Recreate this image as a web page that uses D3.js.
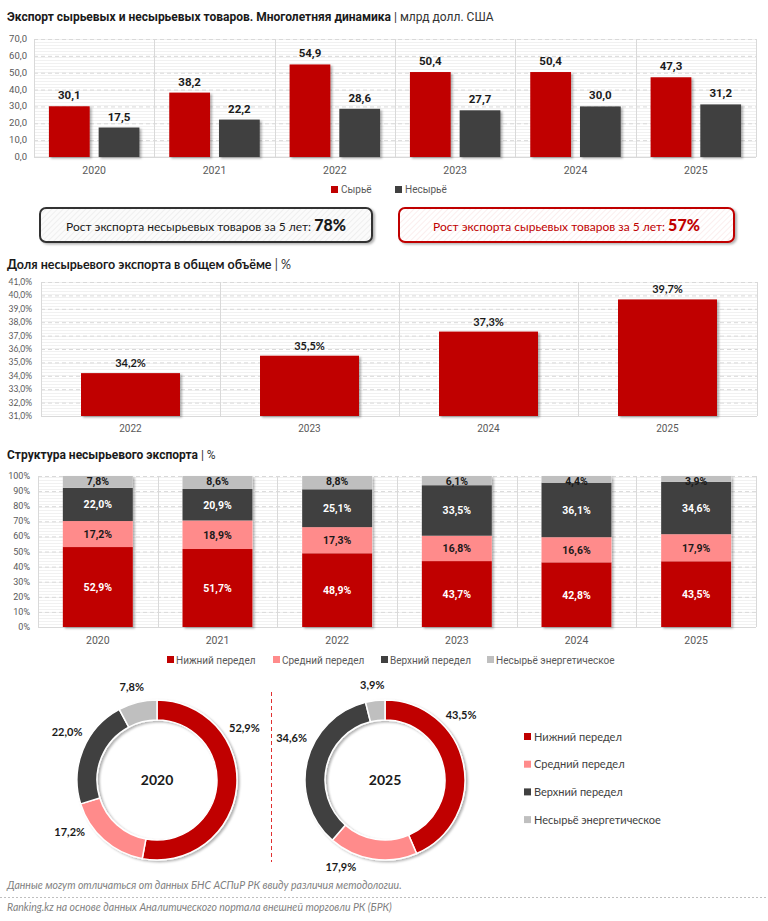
<!DOCTYPE html>
<html>
<head>
<meta charset="utf-8">
<script src="https://cdn.jsdelivr.net/npm/d3@7"></script>
<style>
  body { margin: 0; background: #fff; }
  svg { display: block; }
</style>
</head>
<body>
<div id="chart"></div>
<script>
// --- data ---
var years = ['2020', '2021', '2022', '2023', '2024', '2025'];
var seriesNames = ['Сырьё', 'Несырьё'];
var rawValues = [30.1, 38.2, 54.9, 50.4, 50.4, 47.3];
var nonRawValues = [17.5, 22.2, 28.6, 27.7, 30.0, 31.2];
var yTicks1 = [0, 10, 20, 30, 40, 50, 60, 70];

var shareYears = ['2022', '2023', '2024', '2025'];
var shareValues = [34.2, 35.5, 37.3, 39.7];
var yTicks2 = [31, 32, 33, 34, 35, 36, 37, 38, 39, 40, 41];

var stageNames = ['Нижний передел', 'Средний передел', 'Верхний передел', 'Несырьё энергетическое'];
var lowStage = [52.9, 51.7, 48.9, 43.7, 42.8, 43.5];
var midStage = [17.2, 18.9, 17.3, 16.8, 16.6, 17.9];
var highStage = [22.0, 20.9, 25.1, 33.5, 36.1, 34.6];
var energyStage = [7.8, 8.6, 8.8, 6.1, 4.4, 3.9];
var yTicks3 = [0, 10, 20, 30, 40, 50, 60, 70, 80, 90, 100];

var donutYears = ['2020', '2025'];

var growthNonRaw = 78;
var growthRaw = 57;

// --- styles ---
var RED = '#C00000',
    DARK = '#404040',
    PINK = '#FF8B8B',
    GREY = '#BFBFBF',
    stageColors = [RED, PINK, DARK, GREY],
    WIDE = "Roboto, 'Open Sans', sans-serif",
    NARROW = "Lato, 'Liberation Sans', sans-serif",
    GRID = '#d9d9d9';

var fmt1 = function (v) { return v.toFixed(1).replace('.', ','); };

var svg = d3.select('#chart')
  .append('svg')
  .attr('width', 768)
  .attr('height', 921);

svg.append('rect').attr('width', 768).attr('height', 921).attr('fill', '#fff');

var defs = svg.append('defs');

var stripes = defs.append('pattern')
  .attr('id', 'stripes')
  .attr('patternUnits', 'userSpaceOnUse')
  .attr('width', 6).attr('height', 3);
stripes.append('rect').attr('width', 6).attr('height', 3).attr('fill', '#fff');
stripes.append('rect').attr('width', 6).attr('height', 1).attr('fill', '#f1f1f1');

var hatch = defs.append('pattern')
  .attr('id', 'hatch')
  .attr('patternUnits', 'userSpaceOnUse')
  .attr('width', 4).attr('height', 4)
  .attr('patternTransform', 'rotate(45)');
hatch.append('rect').attr('width', 4).attr('height', 4).attr('fill', '#fbfbfb');
hatch.append('rect').attr('width', 1).attr('height', 4).attr('fill', '#efefef');

var hatchRed = defs.append('pattern')
  .attr('id', 'hatchRed')
  .attr('patternUnits', 'userSpaceOnUse')
  .attr('width', 4).attr('height', 4)
  .attr('patternTransform', 'rotate(45)');
hatchRed.append('rect').attr('width', 4).attr('height', 4).attr('fill', '#fff');
hatchRed.append('rect').attr('width', 1).attr('height', 4).attr('fill', '#fbeeee');

var shadow = defs.append('filter').attr('id', 'shadow')
  .attr('x', '-20%').attr('y', '-20%').attr('width', '140%').attr('height', '140%');
shadow.append('feDropShadow')
  .attr('dx', 2).attr('dy', 1.5).attr('stdDeviation', 1.2)
  .attr('flood-color', '#000').attr('flood-opacity', 0.3);

// helper: background, gridlines, separators, y ticks
var drawFrame = function (g, x, y, ticks, tickFmt, tickX, tickSize, tickFont) {
  var r = x.range(), yr = y.range();
  g.append('rect')
    .attr('x', r[0]).attr('y', yr[1])
    .attr('width', r[1] - r[0]).attr('height', yr[0] - yr[1])
    .attr('fill', 'url(#stripes)');
  g.selectAll('line.grid')
    .data(ticks.slice(1))
    .enter().append('line')
    .attr('class', 'grid')
    .attr('x1', r[0]).attr('x2', r[1])
    .attr('y1', function (d) { return y(d) + 0.5; })
    .attr('y2', function (d) { return y(d) + 0.5; })
    .attr('stroke', GRID).attr('stroke-dasharray', '4,3');
  var seps = x.domain().map(function (d) { return x(d) - x.step() * x.paddingOuter(); });
  seps.push(r[1]);
  g.selectAll('line.sep')
    .data(seps)
    .enter().append('line')
    .attr('class', 'sep')
    .attr('x1', function (d) { return Math.round(d) + 0.5; })
    .attr('x2', function (d) { return Math.round(d) + 0.5; })
    .attr('y1', yr[1]).attr('y2', yr[0])
    .attr('stroke', GRID);
  g.append('line')
    .attr('x1', r[0]).attr('x2', r[1])
    .attr('y1', yr[0] + 0.5).attr('y2', yr[0] + 0.5)
    .attr('stroke', GRID);
  g.selectAll('text.ytick')
    .data(ticks)
    .enter().append('text')
    .attr('class', 'ytick')
    .attr('x', tickX)
    .attr('y', function (d) { return y(d) + 3; })
    .attr('text-anchor', 'end')
    .attr('font-family', tickFont)
    .attr('font-size', tickSize)
    .attr('fill', '#595959')
    .text(tickFmt);
};

var drawXLabels = function (g, x, yPos, size) {
  g.selectAll('text.xlab')
    .data(x.domain())
    .enter().append('text')
    .attr('class', 'xlab')
    .attr('x', function (d) { return x(d) + x.bandwidth() / 2; })
    .attr('y', yPos)
    .attr('text-anchor', 'middle')
    .attr('font-family', WIDE)
    .attr('font-size', size)
    .attr('fill', '#595959')
    .text(function (d) { return d; });
};

var drawTitle = function (bold, rest, yPos, font, size) {
  var t = svg.append('text')
    .attr('x', 7).attr('y', yPos)
    .attr('font-family', font)
    .attr('font-size', size)
    .attr('fill', '#1a1a1a');
  t.append('tspan').attr('font-weight', 'bold').text(bold);
  t.append('tspan').attr('fill', '#333').text(rest);
};

// ================= chart 1 =================
drawTitle('Экспорт сырьевых и несырьевых товаров. Многолетняя динамика', ' | млрд долл. США', 21, WIDE, 12);

var g1 = svg.append('g');
var x1 = d3.scaleBand().domain(years).range([34, 756]);
var x1s = d3.scaleBand().domain(seriesNames).range([0, x1.bandwidth()])
  .paddingInner(0.18).paddingOuter(0.3);
var y1 = d3.scaleLinear().domain([0, 70]).range([157, 39]);

drawFrame(g1, x1, y1, yTicks1, function (d) { return fmt1(d); }, 27, 9.5, WIDE);

var pairs = years.map(function (yr, i) {
  return [
    { year: yr, name: seriesNames[0], value: rawValues[i], color: RED },
    { year: yr, name: seriesNames[1], value: nonRawValues[i], color: DARK }
  ];
});
var flat1 = d3.merge(pairs);

g1.selectAll('rect.bar')
  .data(flat1)
  .enter().append('rect')
  .attr('class', 'bar')
  .attr('x', function (d) { return x1(d.year) + x1s(d.name); })
  .attr('y', function (d) { return y1(d.value); })
  .attr('width', x1s.bandwidth())
  .attr('height', function (d) { return y1(0) - y1(d.value); })
  .attr('fill', function (d) { return d.color; })
  .attr('filter', 'url(#shadow)');

g1.selectAll('text.val')
  .data(flat1)
  .enter().append('text')
  .attr('class', 'val')
  .attr('x', function (d) { return x1(d.year) + x1s(d.name) + x1s.bandwidth() / 2; })
  .attr('y', function (d) { return y1(d.value) - 7; })
  .attr('text-anchor', 'middle')
  .attr('font-family', WIDE)
  .attr('font-size', 11.5)
  .attr('font-weight', 'bold')
  .attr('fill', '#1a1a1a')
  .text(function (d) { return fmt1(d.value); });

drawXLabels(g1, x1, 174, 10.5);

var leg1 = svg.append('g').selectAll('g')
  .data(seriesNames)
  .enter().append('g')
  .attr('transform', function (d, i) { return 'translate(331,186)translate(' + (i * 64) + ',0)'; });
leg1.append('rect').attr('width', 7).attr('height', 7)
  .attr('fill', function (d, i) { return i === 0 ? RED : DARK; });
leg1.append('text').attr('x', 10).attr('y', 7)
  .attr('font-family', WIDE).attr('font-size', 10).attr('fill', '#595959')
  .text(function (d) { return d; });

// ================= growth boxes =================
var boxes = [
  { x: 40, w: 332, stroke: '#333', fill: 'url(#hatch)', color: '#1a1a1a',
    text: 'Рост экспорта несырьевых товаров за 5 лет: ', value: growthNonRaw },
  { x: 399, w: 335, stroke: RED, fill: 'url(#hatchRed)', color: RED,
    text: 'Рост экспорта сырьевых товаров за 5 лет: ', value: growthRaw }
];
var bx = svg.append('g').selectAll('g')
  .data(boxes)
  .enter().append('g');
bx.append('rect')
  .attr('x', function (d) { return d.x; })
  .attr('y', 208).attr('width', function (d) { return d.w; }).attr('height', 34)
  .attr('rx', 6)
  .attr('fill', function (d) { return d.fill; })
  .attr('stroke', function (d) { return d.stroke; })
  .attr('stroke-width', 2)
  .attr('filter', 'url(#shadow)');
var bt = bx.append('text')
  .attr('x', function (d) { return d.x + d.w / 2; })
  .attr('y', 231)
  .attr('text-anchor', 'middle')
  .attr('font-family', NARROW)
  .attr('font-size', 12)
  .attr('fill', function (d) { return d.color; });
bt.append('tspan').text(function (d) { return d.text; });
bt.append('tspan').attr('font-weight', 900).attr('font-size', 16)
  .text(function (d) { return d.value + '%'; });

// ================= chart 2 =================
drawTitle('Доля несырьевого экспорта в общем объёме', ' | %', 269, NARROW, 12.5);

var g2 = svg.append('g');
var x2 = d3.scaleBand().domain(shareYears).range([41, 757])
  .paddingInner(0.447).paddingOuter(0.2235);
var y2 = d3.scaleLinear().domain([31, 41]).range([416, 282]);

drawFrame(g2, x2, y2, yTicks2, function (d) { return fmt1(d) + '%'; }, 32, 8.5, NARROW);

g2.selectAll('rect.bar')
  .data(shareValues)
  .enter().append('rect')
  .attr('class', 'bar')
  .attr('x', function (d, i) { return x2(shareYears[i]); })
  .attr('y', function (d) { return y2(d); })
  .attr('width', x2.bandwidth())
  .attr('height', function (d) { return y2(31) - y2(d); })
  .attr('fill', RED)
  .attr('filter', 'url(#shadow)');

g2.selectAll('text.val')
  .data(shareValues)
  .enter().append('text')
  .attr('class', 'val')
  .attr('x', function (d, i) { return x2(shareYears[i]) + x2.bandwidth() / 2; })
  .attr('y', function (d) { return y2(d) - 6; })
  .attr('text-anchor', 'middle')
  .attr('font-family', NARROW)
  .attr('font-size', 11)
  .attr('font-weight', 'bold')
  .attr('fill', '#1a1a1a')
  .text(function (d) { return fmt1(d) + '%'; });

drawXLabels(g2, x2, 432, 10);

// ================= chart 3 =================
drawTitle('Структура несырьевого экспорта', ' | %', 459, WIDE, 12);

var g3 = svg.append('g');
var x3 = d3.scaleBand().domain(years).range([38, 756])
  .paddingInner(0.415).paddingOuter(0.2075);
var y3 = d3.scaleLinear().domain([0, 100]).range([627, 476]);

drawFrame(g3, x3, y3, yTicks3, function (d) { return d + '%'; }, 30, 9, WIDE);

var stageRows = years.map(function (yr, i) {
  return { year: yr, 0: lowStage[i], 1: midStage[i], 2: highStage[i], 3: energyStage[i] };
});
var stacked = d3.stack().keys([0, 1, 2, 3]).offset(d3.stackOffsetExpand)(stageRows);

var layers = g3.selectAll('g.layer')
  .data(stacked)
  .enter().append('g')
  .attr('class', 'layer');

g3.insert('g', 'g.layer')
  .selectAll('rect')
  .data(years)
  .enter().append('rect')
  .attr('x', function (d) { return x3(d); })
  .attr('y', y3(100))
  .attr('width', x3.bandwidth())
  .attr('height', y3(0) - y3(100))
  .attr('fill', '#fff')
  .attr('filter', 'url(#shadow)');

layers.selectAll('rect')
  .data(function (s) { return s.map(function (p) { return { key: s.key, p: p }; }); })
  .enter().append('rect')
  .attr('x', function (d) { return x3(d.p.data.year); })
  .attr('y', function (d) { return y3(d.p[1] * 100); })
  .attr('width', x3.bandwidth())
  .attr('height', function (d) { return y3(d.p[0] * 100) - y3(d.p[1] * 100); })
  .attr('fill', function (d) { return stageColors[d.key]; });

layers.selectAll('text')
  .data(function (s) { return s.map(function (p) { return { key: s.key, p: p }; }); })
  .enter().append('text')
  .attr('x', function (d) { return x3(d.p.data.year) + x3.bandwidth() / 2; })
  .attr('y', function (d) {
    var mid = y3((d.p[0] + d.p[1]) * 50);
    return d.key === 3 ? y3(d.p[1] * 100) + 9 : mid + 4;
  })
  .attr('text-anchor', 'middle')
  .attr('font-family', WIDE)
  .attr('font-size', 10.5)
  .attr('font-weight', 'bold')
  .attr('fill', function (d) { return (d.key === 0 || d.key === 2) ? '#fff' : '#1a1a1a'; })
  .text(function (d) { return fmt1(d.p.data[d.key]) + '%'; });

drawXLabels(g3, x3, 644, 10.5);

var leg3Pos = [167, 273, 381, 487];
var leg3 = svg.append('g').selectAll('g')
  .data(stageNames)
  .enter().append('g')
  .attr('transform', function (d, i) { return 'translate(' + leg3Pos[i] + ',656)'; });
leg3.append('rect').attr('width', 7).attr('height', 7)
  .attr('fill', function (d, i) { return stageColors[i]; });
leg3.append('text').attr('x', 9).attr('y', 7.5)
  .attr('font-family', WIDE).attr('font-size', 10).attr('fill', '#595959')
  .text(function (d) { return d; });

// ================= donuts =================
var donutCenters = [157, 385];
var donutIdx = [years.indexOf(donutYears[0]), years.indexOf(donutYears[1])];
var labelFrac = [0.3, 0.75, 0.6, 0.5]; // where along each slice its label sits
var pie = d3.pie().sort(null).value(function (d) { return d; });
var arc = d3.arc().innerRadius(60).outerRadius(80);

var labelAngle = function (d) {
  return d.startAngle + (d.endAngle - d.startAngle) * labelFrac[d.index];
};

donutYears.forEach(function (yr, k) {
  var i = donutIdx[k];
  var vals = [lowStage[i], midStage[i], highStage[i], energyStage[i]];
  var arcs = pie(vals);
  var g = svg.append('g').attr('transform', 'translate(' + donutCenters[k] + ',780)');

  g.append('g').attr('filter', 'url(#shadow)')
    .selectAll('path')
    .data(arcs)
    .enter().append('path')
    .attr('d', arc)
    .attr('fill', function (d) { return stageColors[d.index]; })
    .attr('stroke', '#fff')
    .attr('stroke-width', 1.5);

  g.selectAll('text.lab')
    .data(arcs)
    .enter().append('text')
    .attr('class', 'lab')
    .attr('x', function (d) { return Math.sin(labelAngle(d)) * 104; })
    .attr('y', function (d) { return -Math.cos(labelAngle(d)) * 96 + 4; })
    .attr('text-anchor', 'middle')
    .attr('font-family', NARROW)
    .attr('font-size', 11)
    .attr('font-weight', 'bold')
    .attr('fill', '#1a1a1a')
    .text(function (d) { return fmt1(d.data) + '%'; });

  g.append('text')
    .attr('y', 5)
    .attr('text-anchor', 'middle')
    .attr('font-family', NARROW)
    .attr('font-size', 14)
    .attr('font-weight', 'bold')
    .attr('fill', '#1a1a1a')
    .text(yr);
});

svg.append('line')
  .attr('x1', 271.5).attr('x2', 271.5)
  .attr('y1', 692).attr('y2', 862)
  .attr('stroke', '#e03030').attr('stroke-dasharray', '4,3');

var leg4 = svg.append('g').selectAll('g')
  .data(stageNames)
  .enter().append('g')
  .attr('transform', function (d, i) { return 'translate(524,' + (733 + i * 27.7) + ')'; });
leg4.append('rect').attr('width', 7).attr('height', 7)
  .attr('fill', function (d, i) { return stageColors[i]; });
leg4.append('text').attr('x', 10).attr('y', 7.5)
  .attr('font-family', NARROW).attr('font-size', 11).attr('fill', '#404040')
  .text(function (d) { return d; });

// ================= footer =================
svg.append('text')
  .attr('x', 7).attr('y', 889)
  .attr('font-family', NARROW).attr('font-size', 10.5)
  .attr('font-style', 'italic').attr('fill', '#7f7f7f')
  .text('Данные могут отличаться от данных БНС АСПиР РК ввиду различия методологии.');

svg.append('line')
  .attr('x1', 0).attr('x2', 768)
  .attr('y1', 897.5).attr('y2', 897.5)
  .attr('stroke', '#bfbfbf').attr('stroke-dasharray', '2,2');

svg.append('text')
  .attr('x', 7).attr('y', 911)
  .attr('font-family', NARROW).attr('font-size', 10.5)
  .attr('font-style', 'italic').attr('fill', '#7f7f7f')
  .text('Ranking.kz на основе данных Аналитического портала внешней торговли РК (БРК)');
</script>
</body>
</html>
